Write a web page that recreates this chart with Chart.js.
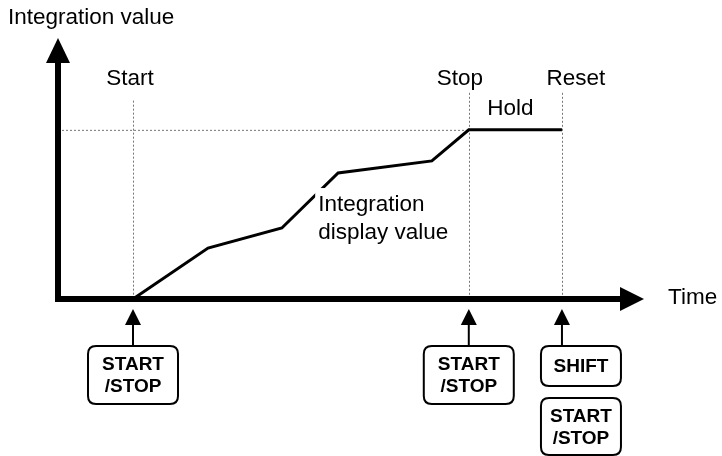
<!DOCTYPE html>
<html>
<head>
<meta charset="utf-8">
<script src="https://cdn.jsdelivr.net/npm/chart.js@4/dist/chart.umd.min.js"></script>
<style>
  html, body { margin: 0; padding: 0; background: #fff; }
  canvas { display: block; }
</style>
</head>
<body>
<canvas id="integChart" width="722" height="456"></canvas>
<script>
// time axis (arbitrary units) and integrated value (arbitrary units)
const timePoints = [12.8, 25.6, 38.2, 47.8, 63.8, 70.1, 86.0];
const integrationValues = [0, 19.5, 27.2, 48.3, 52.9, 64.8, 64.8];

const eventNames = ['Start', 'Stop', 'Reset'];
const eventTimes = [12.8, 70.1, 86.0];
const holdValue = 64.8;

const axisTitleY = 'Integration value';
const axisTitleX = 'Time';
const holdLabel = 'Hold';
const seriesLabel = ['Integration', 'display value'];
const buttonKeys = [['START', '/STOP'], ['START', '/STOP'], ['SHIFT']];

const FONT = '"Liberation Sans", Arial, sans-serif';

function roundRect(ctx, x, y, w, h, r) {
  ctx.beginPath();
  ctx.moveTo(x + r, y);
  ctx.lineTo(x + w - r, y);
  ctx.quadraticCurveTo(x + w, y, x + w, y + r);
  ctx.lineTo(x + w, y + h - r);
  ctx.quadraticCurveTo(x + w, y + h, x + w - r, y + h);
  ctx.lineTo(x + r, y + h);
  ctx.quadraticCurveTo(x, y + h, x, y + h - r);
  ctx.lineTo(x, y + r);
  ctx.quadraticCurveTo(x, y, x + r, y);
  ctx.closePath();
}

function drawKey(ctx, cx, top, w, h, lines) {
  ctx.save();
  ctx.fillStyle = '#fff';
  ctx.strokeStyle = '#000';
  ctx.lineWidth = 2;
  roundRect(ctx, cx - w / 2, top, w, h, 8);
  ctx.fill();
  ctx.stroke();
  ctx.fillStyle = '#000';
  ctx.font = 'bold 19px ' + FONT;
  ctx.textAlign = 'center';
  ctx.textBaseline = 'middle';
  const mid = top + h / 2;
  const gap = 22;
  lines.forEach((t, i) => {
    ctx.fillText(t, cx, mid + (i - (lines.length - 1) / 2) * gap + 1);
  });
  ctx.restore();
}

function upArrow(ctx, x, tip, base) {
  ctx.save();
  ctx.fillStyle = '#000';
  ctx.strokeStyle = '#000';
  ctx.lineWidth = 2;
  ctx.beginPath();
  ctx.moveTo(x, tip);
  ctx.lineTo(x - 8, tip + 16);
  ctx.lineTo(x + 8, tip + 16);
  ctx.closePath();
  ctx.fill();
  ctx.beginPath();
  ctx.moveTo(x, tip + 14);
  ctx.lineTo(x, base);
  ctx.stroke();
  ctx.restore();
}

const diagramPlugin = {
  id: 'diagram',
  beforeDatasetsDraw(chart) {
    const { ctx, scales: { x, y } } = chart;
    const x0 = x.getPixelForValue(0);
    const y0 = y.getPixelForValue(0);
    const holdY = y.getPixelForValue(holdValue);
    const guideTops = [76, 79, 79];

    ctx.save();
    // dotted guides
    ctx.strokeStyle = '#777';
    ctx.lineWidth = 1;
    ctx.setLineDash([2, 2]);
    ctx.beginPath();
    ctx.moveTo(x0, holdY + 0.5);
    ctx.lineTo(x.getPixelForValue(eventTimes[1]), holdY + 0.5);
    ctx.stroke();
    eventTimes.forEach((t, i) => {
      const px = Math.round(x.getPixelForValue(t)) + 0.5;
      ctx.beginPath();
      ctx.moveTo(px, y.getPixelForValue(guideTops[i]));
      ctx.lineTo(px, y0);
      ctx.stroke();
    });
    ctx.setLineDash([]);

    // axes with arrow heads
    ctx.fillStyle = '#000';
    ctx.fillRect(x0 - 3, y.top + 24, 6, y0 - y.top - 21);
    ctx.fillRect(x0 - 3, y0 - 3, x.right - x0 - 20, 6);
    ctx.beginPath();
    ctx.moveTo(x0, y.top);
    ctx.lineTo(x0 - 12, y.top + 25);
    ctx.lineTo(x0 + 12, y.top + 25);
    ctx.closePath();
    ctx.fill();
    ctx.beginPath();
    ctx.moveTo(x.right, y0);
    ctx.lineTo(x.right - 24, y0 - 12);
    ctx.lineTo(x.right - 24, y0 + 12);
    ctx.closePath();
    ctx.fill();
    ctx.restore();
  },
  afterDatasetsDraw(chart) {
    const { ctx, scales: { x, y } } = chart;
    const y0 = y.getPixelForValue(0);
    const holdY = y.getPixelForValue(holdValue);
    const ex = eventTimes.map(t => x.getPixelForValue(t));

    ctx.save();
    ctx.fillStyle = '#000';
    ctx.font = '22.5px ' + FONT;
    ctx.textBaseline = 'middle';

    ctx.textAlign = 'left';
    ctx.fillText(axisTitleY, 8, 18);
    ctx.fillText(axisTitleX, x.right + 24, y0 - 1);

    ctx.textAlign = 'center';
    const labelShift = [-3, -9, 14];
    eventNames.forEach((n, i) => ctx.fillText(n, ex[i] + labelShift[i], 79));
    ctx.fillText(holdLabel, (ex[1] + ex[2]) / 2 - 5, holdY - 21);

    // series label with white backing (cuts the line)
    const lx = x.getPixelForValue(44.4);
    const ly = y.getPixelForValue(36);
    ctx.textAlign = 'left';
    const w = ctx.measureText(seriesLabel[1]).width;
    ctx.fillStyle = '#fff';
    ctx.fillRect(lx - 3, ly - 17, w + 5, 60);
    ctx.fillStyle = '#000';
    seriesLabel.forEach((t, i) => ctx.fillText(t, lx, ly + i * 28));
    ctx.restore();

    // key presses below the time axis
    upArrow(ctx, ex[0], y0 + 10, y0 + 48);
    drawKey(ctx, ex[0], y0 + 47, 90, 58, buttonKeys[0]);
    upArrow(ctx, ex[1], y0 + 10, y0 + 48);
    drawKey(ctx, ex[1], y0 + 47, 90, 58, buttonKeys[1]);
    upArrow(ctx, ex[2], y0 + 10, y0 + 48);
    drawKey(ctx, ex[2] + 19, y0 + 47, 80, 40, buttonKeys[2]);
    drawKey(ctx, ex[2] + 19, y0 + 99, 80, 57, buttonKeys[1]);
  }
};

const ctx = document.getElementById('integChart').getContext('2d');
new Chart(ctx, {
  type: 'line',
  data: {
    datasets: [{
      label: seriesLabel.join(' '),
      data: timePoints.map((t, i) => ({ x: t, y: integrationValues[i] })),
      borderColor: '#000',
      borderWidth: 3,
      pointRadius: 0,
      tension: 0,
      fill: false
    }]
  },
  options: {
    responsive: false,
    animation: false,
    layout: { padding: { left: 58, right: 78, top: 38, bottom: 157 } },
    plugins: { legend: { display: false }, tooltip: { enabled: false } },
    scales: {
      x: { type: 'linear', min: 0, max: 100, display: false },
      y: { type: 'linear', min: 0, max: 100, display: false }
    }
  },
  plugins: [diagramPlugin]
});
</script>
</body>
</html>
